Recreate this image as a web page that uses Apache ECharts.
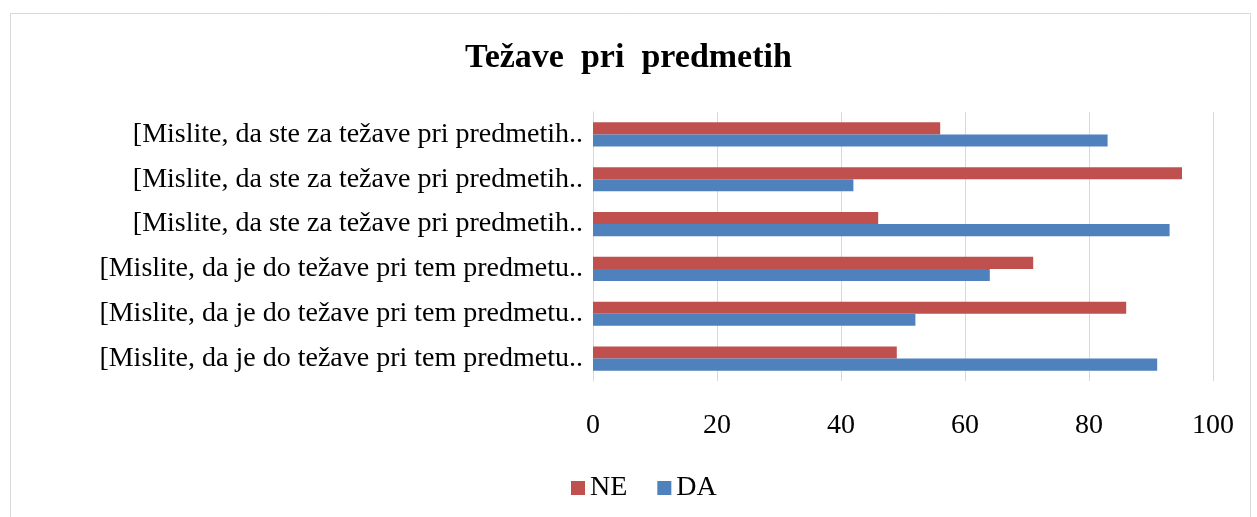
<!DOCTYPE html>
<html>
<head>
<meta charset="utf-8">
<script src="https://cdn.jsdelivr.net/npm/echarts@6/dist/echarts.min.js"></script>
<style>
  html, body { margin: 0; padding: 0; background: #fff; }
  #chart { width: 1257px; height: 517px; }
</style>
</head>
<body>
<div id="chart"></div>
<script>
// categories listed bottom to top (category axis starts at bottom)
const categories = [
  '[Mislite, da je do težave pri tem predmetu..',
  '[Mislite, da je do težave pri tem predmetu..',
  '[Mislite, da je do težave pri tem predmetu..',
  '[Mislite, da ste za težave pri predmetih..',
  '[Mislite, da ste za težave pri predmetih..',
  '[Mislite, da ste za težave pri predmetih..'
];
const daValues = [91, 52, 64, 93, 42, 83];
const neValues = [49, 86, 71, 46, 95, 56];
const xTicks = [0, 20, 40, 60, 80, 100];

const serif = 'Liberation Serif';
let chart = echarts.init(document.getElementById('chart'));
chart.setOption({
  animation: false,
  textStyle: { fontFamily: serif },
  title: {
    text: 'Težave  pri  predmetih',
    left: 'center',
    top: 36,
    textStyle: { fontFamily: serif, fontSize: 34, fontWeight: 'bold', color: '#000' }
  },
  graphic: [{
    type: 'rect',
    shape: { x: 10.5, y: 13.5, width: 1240, height: 520 },
    style: { fill: null, stroke: '#d9d9d9', lineWidth: 1 },
    silent: true
  }],
  legend: {
    data: ['NE', 'DA'],
    bottom: 10,
    left: 566,
    itemWidth: 14,
    itemHeight: 14,
    itemGap: 30,
    icon: 'rect',
    textStyle: { fontFamily: serif, fontSize: 28, color: '#000' }
  },
  grid: { left: 593, right: 44, top: 112, bottom: 136, containLabel: false },
  xAxis: {
    type: 'value',
    min: 0,
    max: 100,
    interval: 20,
    axisLine: { show: false },
    axisTick: { show: false },
    splitLine: { lineStyle: { color: '#d9d9d9', width: 1 } },
    axisLabel: {
      margin: 31,
      fontFamily: serif, fontSize: 28, color: '#000',
      formatter: v => xTicks.indexOf(v) >= 0 ? String(v) : ''
    }
  },
  yAxis: {
    type: 'category',
    data: categories,
    axisLine: { show: true, lineStyle: { color: '#d9d9d9' } },
    axisTick: { show: false },
    axisLabel: { margin: 10, fontFamily: serif, fontSize: 28, color: '#000' }
  },
  series: [
    {
      name: 'NE',
      type: 'bar',
      data: neValues,
      itemStyle: { color: '#c0504d' },
      barCategoryGap: '46%',
      barGap: '0%'
    },
    {
      name: 'DA',
      type: 'bar',
      data: daValues,
      itemStyle: { color: '#4f81bd' },
      barCategoryGap: '46%',
      barGap: '0%'
    }
  ]
});
</script>
</body>
</html>
